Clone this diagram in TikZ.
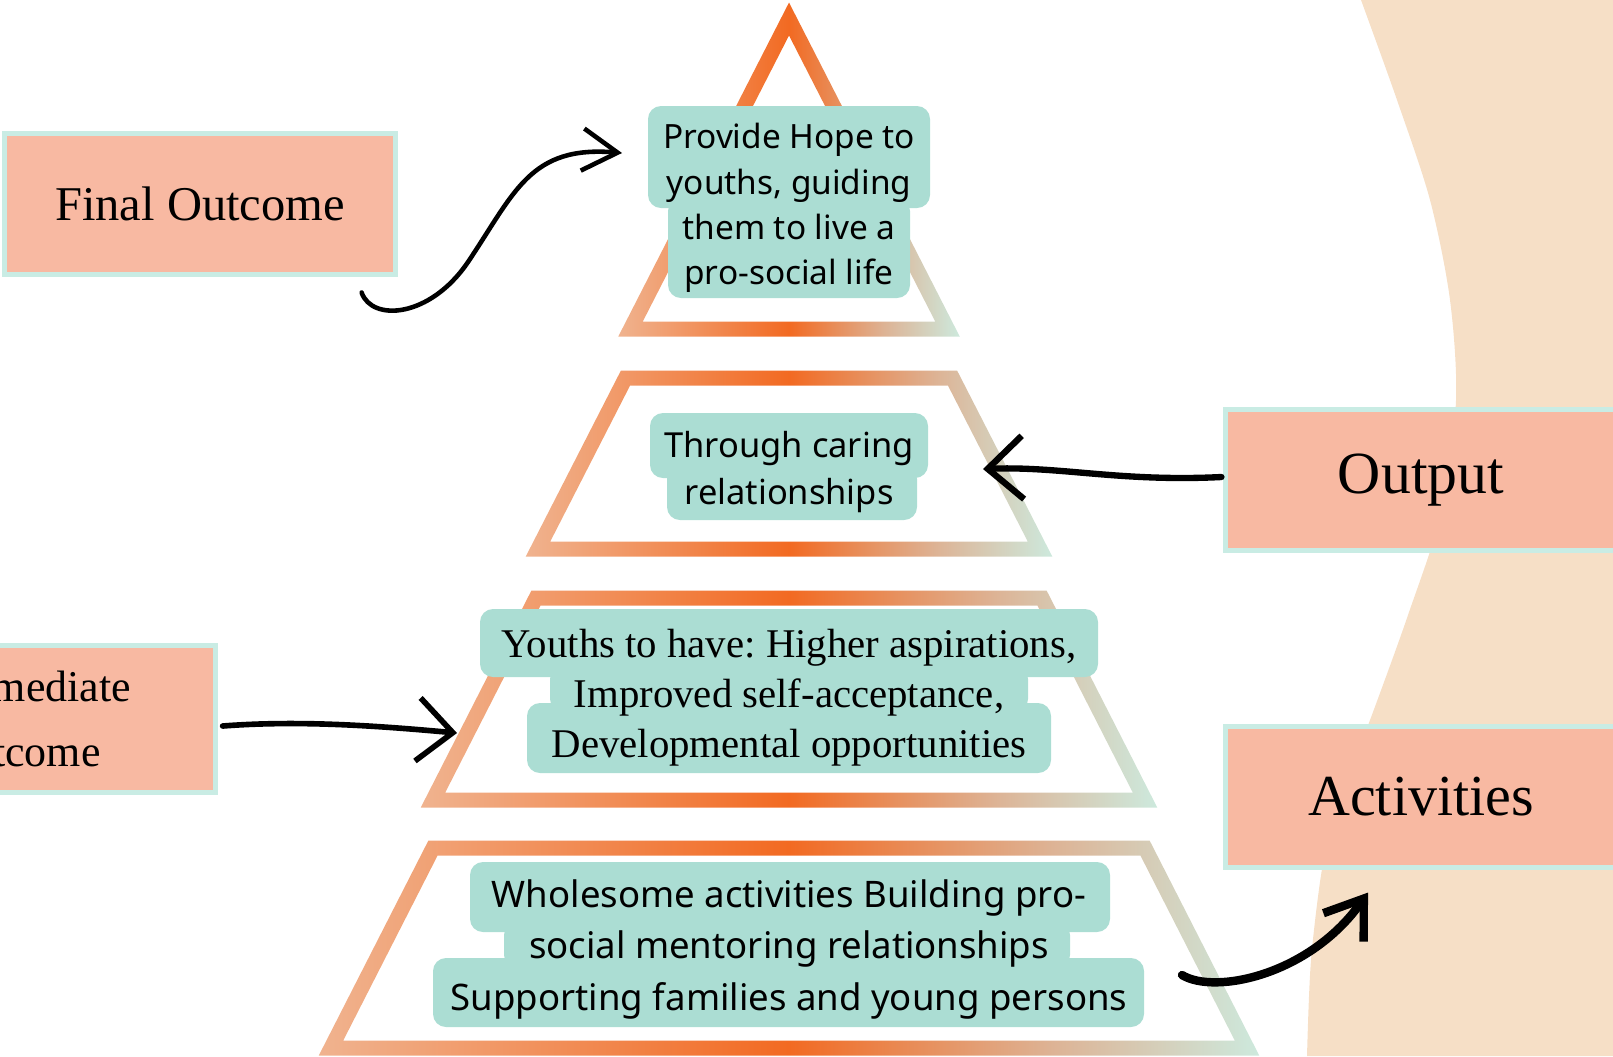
\documentclass[tikz,border=0pt]{standalone}
\usepackage{fontspec}
\setmainfont{Liberation Serif}
\newfontfamily\boxfont{Noto Sans}
\usetikzlibrary{arrows.meta,calc}

\definecolor{beige}{HTML}{F6DFC6}
\definecolor{salmon}{HTML}{F8B9A2}
\definecolor{mintline}{HTML}{C9ECE4}
\definecolor{tealbg}{HTML}{ABDDD3}
\definecolor{peachl}{HTML}{F0B38F}
\definecolor{orangem}{HTML}{F26A22}
\definecolor{tanm}{HTML}{DDB395}
\definecolor{mintr}{HTML}{CDE9DD}

\pgfdeclarehorizontalshading{pyrgrad}{100bp}{color(0bp)=(peachl); color(25bp)=(peachl); color(50bp)=(orangem); color(64bp)=(tanm); color(75bp)=(mintr); color(100bp)=(mintr)}

\newcommand\pyrring[4]{%
  \pgfmathsetmacro\pyrs{(#4-#3)/(#2-#1)}
  \pgfmathsetmacro\pyrd{7.5*sqrt(1+\pyrs*\pyrs)}
  \shade[shading=pyrgrad, even odd rule]
    (789-#3-\pyrd+7.5*\pyrs,#1-7.5) -- (789+#3+\pyrd-7.5*\pyrs,#1-7.5) -- (789+#4+\pyrd+7.5*\pyrs,#2+7.5) -- (789-#4-\pyrd-7.5*\pyrs,#2+7.5) -- cycle
    (789-#3+\pyrd-7.5*\pyrs,#1+7.5) -- (789+#3-\pyrd+7.5*\pyrs,#1+7.5) -- (789+#4-\pyrd-7.5*\pyrs,#2-7.5) -- (789-#4+\pyrd+7.5*\pyrs,#2-7.5) -- cycle;
}

\tikzset{
  textbg/.style={fill=tealbg, rounded corners=3.7pt},
  labelbox/.style={fill=salmon, draw=mintline, line width=0.05cm, minimum width=3.9cm, minimum height=1.4cm, align=center},
  sanstext/.style={font=\boxfont#1, align=center, inner sep=0pt},
  hand/.style={line width=1.3pt, line cap=round, line join=round, -{Straight Barb[length=10pt,width=18pt]}}
}

\begin{document}
\frenchspacing
\begin{tikzpicture}[x=0.01cm,y=-0.01cm]
\useasboundingbox (0,0) rectangle (1613,1056);

\fill[beige] plot[smooth] coordinates {(1361,0) (1397,100) (1430,200) (1450,300) (1456,400) (1442,510) (1408,615) (1373,712) (1340,800) (1323,863) (1311,960) (1307,1056)} -- (1613,1056) -- (1613,0) -- cycle;

\pgfmathsetmacro\tris{159/311}
\pgfmathsetmacro\trid{7.5*sqrt(1+\tris*\tris)/\tris}
\pgfmathsetmacro\trio{\tris*(336.5-19+\trid)}
\pgfmathsetmacro\trii{\tris*(321.5-19-\trid)}
\shade[shading=pyrgrad, even odd rule]
  (789,19-\trid) -- (789+\trio,336.5) -- (789-\trio,336.5) -- cycle
  (789,19+\trid) -- (789+\trii,321.5) -- (789-\trii,321.5) -- cycle;
\foreach \t/\b/\a/\c in {378/549/163.5/251, 598/800/253/356, 848/1048/356/458}{
  \pyrring{\t}{\b}{\a}{\c}
}

\foreach \l/\t/\r/\b in {648/106/930/208, 668/198/910/298, 650/413/928/478, 667/466/917/520,
    480/609/1098/677, 550/666/1028/712, 527/703/1051/773,
    470/862/1110/932, 504/922/1070/968, 433/958/1144/1027}
  \fill[textbg] (\l,\t) rectangle (\r,\b);

\node[sanstext={\fontsize{9.5}{12.9}\selectfont}] (hope) at (789,208) {Provide Hope to\\youths, guiding\\them to live a\\pro-social life};
\node[sanstext={\fontsize{9.8}{13.4}\selectfont}] (caring) at (789,472) {Through caring\\relationships};
\node[align=center, inner sep=0pt, font=\fontsize{11.6}{14.2}\selectfont] (youths) at (789,698) {Youths to have: Higher aspirations,\\Improved self-acceptance,\\Developmental opportunities};
\node[sanstext={\fontsize{10.4}{14.65}\selectfont}] (acts) at (789,949) {Wholesome activities Building pro-\\social mentoring relationships\\Supporting families and young persons};

\node[labelbox, font=\fontsize{13.8}{16}\selectfont] (final) at (200,204) {Final Outcome};
\node[labelbox, font=\fontsize{17}{20}\selectfont] (output) at (1421,480) {Output};
\node[labelbox, font=\fontsize{16.5}{20}\selectfont] (activities) at (1421,797) {Activities};
\node[labelbox, minimum height=1.47cm, font=\fontsize{12.5}{18.5}\selectfont] (inter) at (20,719) {Intermediate\\Outcome};

\coordinate (hope-in) at (622,153);
\coordinate (caring-in) at (983,469);
\coordinate (youths-in) at (457,733);
\coordinate (acts-out) at (1182,975);

\draw[hand, -{Straight Barb[length=10pt,width=12pt]}] ($(final.south east)+(-36,16)$) .. controls (372,322) and (430,318) .. (468,262) .. controls (515,192) and (530,145) .. (hope-in);
\draw[hand, line width=1.8pt] ($(output.west)+(-2,-3)$) .. controls (1120,482) and (1060,466) .. (caring-in);
\draw[hand, line width=1.6pt] ($(inter.east)+(5,7)$) .. controls (300,720) and (380,726) .. (youths-in);
\draw[hand, line width=2.4pt, -{Straight Barb[length=10pt,width=14pt]}] (acts-out) .. controls (1215,995) and (1310,975) .. ($(activities.south)+(-53,23)$);
\end{tikzpicture}
\end{document}
